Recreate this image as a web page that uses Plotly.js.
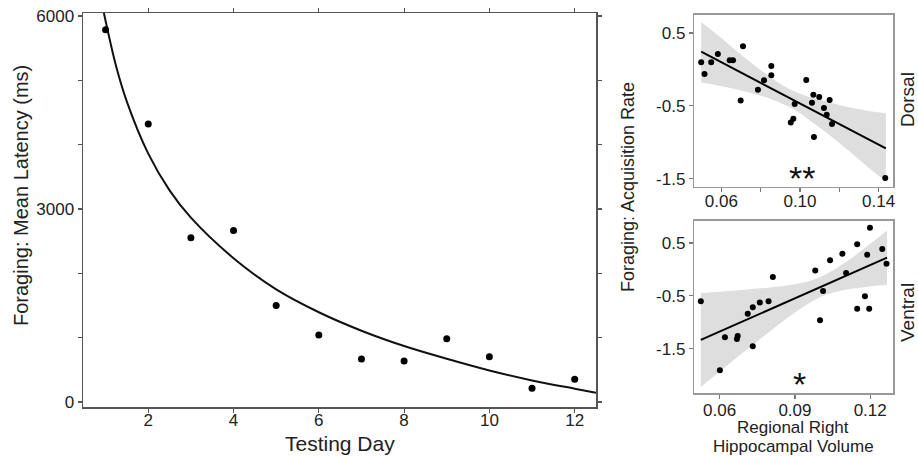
<!DOCTYPE html>
<html>
<head>
<meta charset="utf-8">
<script src="https://cdn.plot.ly/plotly-3.0.1.min.js"></script>
<style>html,body{margin:0;padding:0;background:#fff;}#chart{width:918px;height:456px;}</style>
</head>
<body>
<div id="chart"></div>
<script>
// ---- Left panel: foraging latency by testing day ----
const days = [1, 2, 3, 4, 5, 6, 7, 8, 9, 10, 11, 12];
const meanLatency = [5785, 4323, 2555, 2664, 1498, 1042, 669, 638, 984, 705, 213, 353];
const curveDay = [0.95, 1.25, 1.5, 2, 2.5, 3, 4, 5, 6, 7, 8, 9, 10, 11, 12, 12.5];
const curveLatency = [6078, 5210, 4665, 3860, 3290, 2865, 2235, 1750, 1395, 1108, 870, 672, 490, 335, 207, 145];
const latencyTickVals = [0, 1000, 2000, 3000, 4000, 5000, 6000];
const latencyTickText = ['0', '', '', '3000', '', '', '6000'];
const dayTickVals = [2, 4, 6, 8, 10, 12];

// ---- Top right: dorsal volume vs acquisition rate ----
const dorsalVolume = [0.0497, 0.0514, 0.0548, 0.0582, 0.0642, 0.0659, 0.0710, 0.0698, 0.0786, 0.0817, 0.0854, 0.0854, 0.0953, 0.0966, 0.0973, 0.1032, 0.1068, 0.1061, 0.1098, 0.1071, 0.1122, 0.1151, 0.1136, 0.1163, 0.1434];
const dorsalRate = [0.097, -0.063, 0.097, 0.212, 0.125, 0.125, 0.317, -0.425, -0.278, -0.15, 0.047, -0.081, -0.727, -0.677, -0.475, -0.146, -0.347, -0.457, -0.379, -0.929, -0.530, -0.420, -0.622, -0.75, -1.49];
const dorsalFitX = [0.0497, 0.1437];
const dorsalFitY = [0.243, -1.084];
const dorsalBandX = [0.0497, 0.06, 0.07, 0.08, 0.09, 0.097, 0.105, 0.115, 0.125, 0.135, 0.1437];
const dorsalBandUpper = [0.65, 0.43, 0.20, -0.01, -0.20, -0.30, -0.38, -0.45, -0.52, -0.57, -0.60];
const dorsalBandLower = [-0.18, -0.23, -0.29, -0.36, -0.46, -0.55, -0.70, -0.90, -1.12, -1.35, -1.54];
const dorsalXTickVals = [0.06, 0.08, 0.10, 0.12, 0.14];
const dorsalXTickText = ['0.06', '', '0.10', '', '0.14'];

// ---- Bottom right: ventral volume vs acquisition rate ----
const ventralVolume = [0.0525, 0.0601, 0.0621, 0.0672, 0.0669, 0.0712, 0.0732, 0.0732, 0.0760, 0.0795, 0.0812, 0.0981, 0.1000, 0.1012, 0.1040, 0.1089, 0.1104, 0.1148, 0.1148, 0.1188, 0.1179, 0.1196, 0.1199, 0.1248, 0.1265];
const ventralRate = [-0.603, -1.909, -1.284, -1.26, -1.32, -0.838, -0.717, -1.455, -0.629, -0.603, -0.143, -0.023, -0.963, -0.408, 0.172, 0.298, -0.068, 0.475, -0.743, 0.279, -0.509, -0.743, 0.79, 0.386, 0.108];
const ventralFitX = [0.0525, 0.1267];
const ventralFitY = [-1.335, 0.222];
const ventralBandX = [0.0525, 0.06, 0.07, 0.08, 0.09, 0.10, 0.11, 0.12, 0.1267];
const ventralBandUpper = [-0.445, -0.421, -0.385, -0.342, -0.280, -0.148, 0.129, 0.484, 0.736];
const ventralBandLower = [-2.225, -1.935, -1.551, -1.174, -0.816, -0.528, -0.387, -0.322, -0.292];
const ventralXTickVals = [0.06, 0.09, 0.12];
const ventralXTickText = ['0.06', '0.09', '0.12'];

const rateTickVals = [0.5, -0.5, -1.5];
const rateTickText = ['0.5', '-0.5', '-1.5'];

const FONT = 'Liberation Sans, Arial, sans-serif';
const bandColor = '#dedede';

const traces = [
  {x: curveDay, y: curveLatency, xaxis: 'x', yaxis: 'y', mode: 'lines', line: {color: '#111', width: 2, shape: 'spline'}, hoverinfo: 'skip'},
  {x: days, y: meanLatency, xaxis: 'x', yaxis: 'y', mode: 'markers', marker: {color: '#000', size: 7}},

  {x: dorsalBandX, y: dorsalBandUpper, xaxis: 'x2', yaxis: 'y2', mode: 'lines', line: {width: 0, color: bandColor, shape: 'spline'}, hoverinfo: 'skip'},
  {x: dorsalBandX, y: dorsalBandLower, xaxis: 'x2', yaxis: 'y2', mode: 'lines', line: {width: 0, color: bandColor, shape: 'spline'}, fill: 'tonexty', fillcolor: bandColor, hoverinfo: 'skip'},
  {x: dorsalFitX, y: dorsalFitY, xaxis: 'x2', yaxis: 'y2', mode: 'lines', line: {color: '#000', width: 2}},
  {x: dorsalVolume, y: dorsalRate, xaxis: 'x2', yaxis: 'y2', mode: 'markers', marker: {color: '#000', size: 6}},

  {x: ventralBandX, y: ventralBandUpper, xaxis: 'x3', yaxis: 'y3', mode: 'lines', line: {width: 0, color: bandColor, shape: 'spline'}, hoverinfo: 'skip'},
  {x: ventralBandX, y: ventralBandLower, xaxis: 'x3', yaxis: 'y3', mode: 'lines', line: {width: 0, color: bandColor, shape: 'spline'}, fill: 'tonexty', fillcolor: bandColor, hoverinfo: 'skip'},
  {x: ventralFitX, y: ventralFitY, xaxis: 'x3', yaxis: 'y3', mode: 'lines', line: {color: '#000', width: 2}},
  {x: ventralVolume, y: ventralRate, xaxis: 'x3', yaxis: 'y3', mode: 'markers', marker: {color: '#000', size: 6}}
];

const tickFont = {family: FONT, size: 17, color: '#222'};
function frameAxis(extra) {
  return Object.assign({
    showline: true, mirror: true, linecolor: '#999', linewidth: 1.5,
    showgrid: false, zeroline: false, ticks: 'outside', ticklen: 4, tickwidth: 1.2, tickcolor: '#777',
    tickfont: tickFont, automargin: false, fixedrange: true
  }, extra);
}

const px = v => v / 918;
const py = v => 1 - v / 456;

function label(text, x, y, size, angle, extra) {
  return Object.assign({text: text, xref: 'paper', yref: 'paper', x: px(x), y: py(y), xanchor: 'center', yanchor: 'middle',
          textangle: angle || 0, showarrow: false, font: {family: FONT, size: size, color: '#222'}}, extra || {});
}

const layout = {
  width: 918, height: 456,
  margin: {l: 0, r: 0, t: 0, b: 0},
  paper_bgcolor: '#fff', plot_bgcolor: '#fff',
  showlegend: false,
  font: {family: FONT, color: '#222'},
  xaxis: frameAxis({domain: [px(83), px(596)], range: [0.47, 12.5], tickmode: 'array', tickvals: dayTickVals,
                    mirror: 'ticks', anchor: 'y', linecolor: '#555', tickcolor: '#555', ticklabelstandoff: -7}),
  yaxis: frameAxis({domain: [py(407), py(13)], range: [-78, 6047], tickmode: 'array', tickvals: latencyTickVals, ticktext: latencyTickText,
                    mirror: 'ticks', anchor: 'x', linecolor: '#555', tickcolor: '#555'}),
  xaxis2: frameAxis({domain: [px(694.3), px(893.3)], range: [0.0462, 0.1475], tickmode: 'array', tickvals: dorsalXTickVals, ticktext: dorsalXTickText,
                     anchor: 'y2', ticklabelstandoff: -6}),
  yaxis2: frameAxis({domain: [py(186.7), py(14.5)], range: [-1.61, 0.754], tickmode: 'array', tickvals: rateTickVals, ticktext: rateTickText, anchor: 'x2'}),
  xaxis3: frameAxis({domain: [px(694.3), px(893.3)], range: [0.0499, 0.1292], tickmode: 'array', tickvals: ventralXTickVals, ticktext: ventralXTickText,
                     anchor: 'y3', ticklabelstandoff: -3}),
  yaxis3: frameAxis({domain: [py(393.3), py(220.7)], range: [-2.346, 0.922], tickmode: 'array', tickvals: rateTickVals, ticktext: rateTickText, anchor: 'x3'}),
  annotations: [
    label('Foraging: Mean Latency (ms)', 21, 196, 20, -90),
    label('Testing Day', 340, 443, 21),
    label('Foraging: Acquisition Rate', 628, 187, 18, -90),
    label('Dorsal', 907, 100, 19, -90),
    label('Ventral', 907, 313, 19, -90),
    label('Regional Right', 793, 427, 17, 0, {height: 18}),
    label('Hippocampal Volume', 793, 446, 17, 0, {height: 18}),
    label('**', 802, 178, 34, 0, {font: {family: FONT, size: 34, color: '#111'}}),
    label('*', 799, 384, 34, 0, {font: {family: FONT, size: 34, color: '#111'}})
  ]
};

Plotly.newPlot('chart', traces, layout, {staticPlot: true, displayModeBar: false});
</script>
</body>
</html>
